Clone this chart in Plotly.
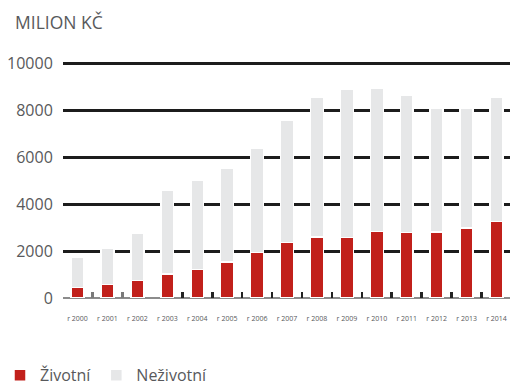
import plotly.graph_objects as go

years = [2000, 2001, 2002, 2003, 2004, 2005, 2006, 2007, 2008, 2009, 2010, 2011, 2012, 2013, 2014]
tick_labels = ["r " + str(y) for y in years]
zivotni = [455, 583, 753, 1021, 1208, 1532, 1945, 2357, 2596, 2570, 2825, 2783, 2808, 2979, 3264]
nezivotni = [1290, 1537, 2000, 3574, 3787, 4000, 4412, 5217, 5944, 6310, 6098, 5842, 5264, 5093, 5263]
y_ticks = [0, 2000, 4000, 6000, 8000, 10000]
y_tick_text = [str(v) for v in y_ticks]
divider_heights = [250, 250, 0, 250, 250, 250, 250, 250, 250, 250, 250, 250, 250, 250, 250]
divider_colors = ["#7a7a7a", "#7a7a7a", "rgba(0,0,0,0)"] + ["#222222"] * 11 + ["#bbbbbb"]

RED = "#c1201b"
GREY = "#e6e7e8"
TXT = "#58595b"
FONT = "Open Sans"

x = list(range(len(years)))
xd = [i + 0.5 for i in x]

fig = go.Figure()
fig.add_trace(go.Bar(x=x, y=zivotni, name="Životní", marker=dict(color=RED, line=dict(color="white", width=1.5)),
                     width=0.43))
fig.add_trace(go.Bar(x=x, y=nezivotni, name="Neživotní", marker=dict(color=GREY, line=dict(color="white", width=1.5)),
                     width=0.43))
fig.add_trace(go.Bar(x=xd, y=divider_heights, showlegend=False, width=0.09,
                     marker=dict(color=divider_colors, line=dict(width=0)), hoverinfo="skip"))

fig.update_layout(
    width=510, height=383,
    margin=dict(l=63, r=0, t=56, b=85, autoexpand=False),
    barmode="stack",
    plot_bgcolor="white", paper_bgcolor="white",
    font=dict(family=FONT, color=TXT),
    showlegend=True,
    legend=dict(orientation="h", xref="container", yref="container",
                x=-0.008, xanchor="left", y=0.02, yanchor="middle",
                font=dict(size=16, color=TXT, family=FONT), traceorder="normal",
                itemwidth=30, bgcolor="rgba(0,0,0,0)"),
    annotations=[dict(text="MILION KČ", xref="paper", yref="paper", x=-0.112, y=1.1405,
                      xanchor="left", yanchor="middle", showarrow=False,
                      font=dict(size=17.5, color=TXT, family=FONT))],
)
fig.update_xaxes(range=[-0.485, 14.45], tickvals=x, ticktext=tick_labels, showgrid=False,
                 ticks="outside", ticklen=14, tickcolor="rgba(0,0,0,0)", automargin=False,
                 tickfont=dict(size=7, color=TXT, family=FONT), zeroline=False, showline=False)
fig.update_yaxes(range=[0, 10300], tickvals=y_ticks, ticktext=y_tick_text,
                 showgrid=True, gridcolor="#1c1c1c", gridwidth=2.5, automargin=False,
                 zeroline=True, zerolinecolor="#8c8c8c", zerolinewidth=2,
                 ticks="outside", ticklen=6, tickcolor="rgba(0,0,0,0)",
                 tickfont=dict(size=16, color=TXT, family=FONT), showline=False)

fig.write_html("out.html")
